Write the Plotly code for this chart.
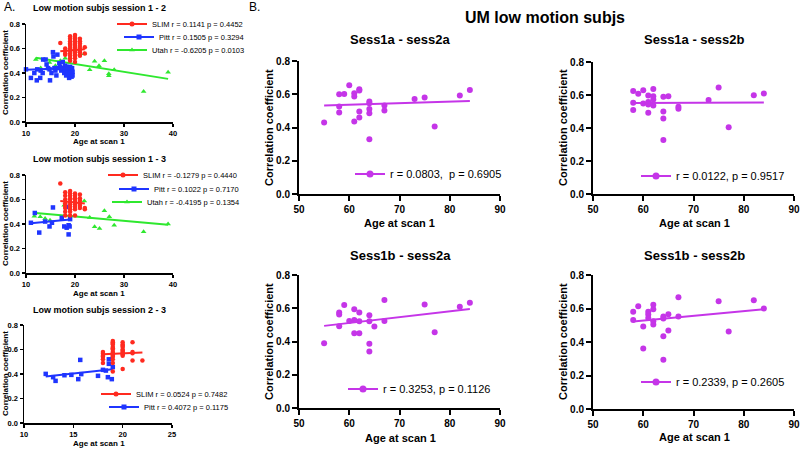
import plotly.graph_objects as go

# ------------------------------------------------------------------
# DATA
# ------------------------------------------------------------------
y_ticks = [0.0, 0.2, 0.4, 0.6, 0.8]
a_x_ticks_wide = [10, 20, 30, 40]
a_x_ticks_narrow = [10, 15, 20, 25]
b_x_ticks = [50, 60, 70, 80, 90]

# ---- A: Low motion subjs session 1 - 2 ----
a12_slim_age = [17,
                18, 18, 18, 18,
                19, 19, 19, 19, 19, 19, 19, 19, 19, 19, 19, 19, 19,
                20, 20, 20, 20, 20, 20, 20, 20, 20, 20, 20, 20, 20, 20, 20, 20,
                21, 21, 21, 21, 21, 21, 21, 21, 21,
                22, 22]
a12_slim_r = [0.645,
              0.60, 0.58, 0.56, 0.55,
              0.70, 0.68, 0.66, 0.64, 0.63, 0.62, 0.60, 0.59, 0.58, 0.56, 0.54, 0.52, 0.50,
              0.71, 0.69, 0.68, 0.67, 0.66, 0.65, 0.63, 0.62, 0.61, 0.59, 0.58, 0.57, 0.55, 0.54, 0.52, 0.49,
              0.68, 0.66, 0.64, 0.62, 0.60, 0.58, 0.57, 0.55, 0.54,
              0.61, 0.56]
a12_pitt_age = [10, 11, 11.7, 12.2, 12.3, 12.9, 13, 13.4, 13.5, 14, 14.2, 14.5, 14.8, 14.9,
                15.2, 15.5, 15.6, 15.8, 16, 16.2, 16.4, 16.5, 16.8, 17, 17.2, 17.5, 17.6, 17.8,
                18, 18, 18.2, 18.3, 18.5, 18.6, 18.8, 18.9, 19, 19, 19.1, 19.2, 19.3, 19.4,
                19.5, 19.5]
a12_pitt_r = [0.43, 0.36, 0.40, 0.34, 0.43, 0.36, 0.42, 0.40, 0.51, 0.51, 0.47, 0.44, 0.43, 0.34,
              0.40, 0.57, 0.535, 0.44, 0.42, 0.38, 0.55, 0.44, 0.48, 0.45, 0.42, 0.49, 0.44, 0.40,
              0.46, 0.43, 0.38, 0.45, 0.41, 0.44, 0.36, 0.42, 0.45, 0.39, 0.43, 0.40, 0.37, 0.44,
              0.41, 0.38]
a12_utah_age = [12, 13, 14.8, 16, 17, 18, 21.9, 23, 24, 24.9, 26, 26.9, 26.9, 28, 34, 39]
a12_utah_r = [0.51, 0.44, 0.485, 0.46, 0.50, 0.52, 0.557, 0.426, 0.495, 0.459, 0.50, 0.393,
              0.377, 0.426, 0.249, 0.407]
a12_slim_fit_age = [17, 22]
a12_slim_fit_r = [0.577, 0.594]
a12_pitt_fit_age = [10, 19.5]
a12_pitt_fit_r = [0.426, 0.44]
a12_utah_fit_age = [12, 39]
a12_utah_fit_r = [0.525, 0.352]
a12_labels = ["SLIM r = 0.1141 p = 0.4452", "Pitt r = 0.1505 p = 0.3294", "Utah r = -0.6205 p = 0.0103"]

# ---- A: Low motion subjs session 1 - 3 ----
a13_slim_age = [17,
                18, 18, 18, 18, 18, 18, 18, 18,
                19, 19, 19, 19, 19, 19, 19, 19, 19, 19, 19,
                20, 20, 20, 20, 20, 20, 20, 20, 20,
                21, 21, 21, 21, 21, 21,
                22, 22]
a13_slim_r = [0.73,
              0.66, 0.63, 0.60, 0.57, 0.55, 0.53, 0.50, 0.47,
              0.67, 0.65, 0.63, 0.61, 0.60, 0.58, 0.56, 0.54, 0.52, 0.50, 0.47,
              0.65, 0.63, 0.61, 0.60, 0.58, 0.56, 0.54, 0.52, 0.47,
              0.64, 0.61, 0.59, 0.57, 0.55, 0.53,
              0.53, 0.52]
a13_pitt_age = [11, 11.8, 12.7, 13.9, 14.8, 15.3, 15.5, 17.3, 17.8, 18.3, 18.2, 18.7, 18.7, 18.9, 19]
a13_pitt_r = [0.41, 0.49, 0.33, 0.42, 0.38, 0.41, 0.535, 0.45, 0.38, 0.37, 0.54, 0.315, 0.39, 0.38, 0.44]
a13_utah_age = [11.7, 12.9, 13.9, 14.9, 17.8, 21.9, 23, 24, 25, 26, 27, 28, 34, 39]
a13_utah_r = [0.464, 0.459, 0.445, 0.43, 0.554, 0.587, 0.453, 0.377, 0.363, 0.508, 0.459, 0.39, 0.336, 0.399]
a13_slim_fit_age = [17, 22]
a13_slim_fit_r = [0.587, 0.567]
a13_pitt_fit_age = [11, 19]
a13_pitt_fit_r = [0.407, 0.437]
a13_utah_fit_age = [12, 39]
a13_utah_fit_r = [0.49, 0.393]
a13_labels = ["SLIM r = -0.1279 p = 0.4440", "Pitt r = 0.1022 p = 0.7170", "Utah r = -0.4195 p = 0.1354"]

# ---- A: Low motion subjs session 2 - 3 ----
a23_slim_age = [18, 18, 18, 18, 18, 18,
                19, 19, 19, 19, 19, 19, 19, 19, 19, 19, 19, 19, 19, 19, 19,
                20, 20, 20, 20, 20, 20, 20, 20, 20, 20, 20,
                21, 21, 21, 21,
                22]
a23_slim_r = [0.58, 0.565, 0.55, 0.54, 0.52, 0.49,
              0.67, 0.66, 0.65, 0.64, 0.62, 0.61, 0.60, 0.58, 0.57, 0.56, 0.55, 0.54, 0.52, 0.49, 0.42,
              0.66, 0.64, 0.63, 0.62, 0.60, 0.59, 0.58, 0.57, 0.56, 0.55, 0.44,
              0.66, 0.58, 0.57, 0.51,
              0.51]
a23_pitt_age = [12.2, 12.95, 13.2, 14.1, 14.8, 15.5, 15.7, 15.8, 17.5, 18.0, 18.3, 18.5, 18.6, 18.6, 18.9, 19.0]
a23_pitt_r = [0.401, 0.374, 0.344, 0.39, 0.393, 0.358, 0.515, 0.399, 0.385, 0.434, 0.428, 0.374, 0.52, 0.483, 0.358, 0.456]
a23_slim_fit_age = [18, 22]
a23_slim_fit_r = [0.561, 0.575]
a23_pitt_fit_age = [12.2, 19]
a23_pitt_fit_r = [0.38, 0.439]
a23_labels = ["SLIM r = 0.0524 p = 0.7482", "Pitt r = 0.4072 p = 0.1175"]

# ---- B: UM low motion subjs ----
b1_age = [55, 58, 58, 58, 59, 60, 61, 61, 61, 62, 62, 62, 62, 64, 64, 64, 64, 64, 67, 67, 73, 75, 77, 82, 84]
b1_r = [0.43, 0.60, 0.526, 0.49, 0.602, 0.654, 0.606, 0.586, 0.436, 0.63, 0.622, 0.496, 0.46,
        0.556, 0.546, 0.512, 0.486, 0.33, 0.532, 0.502, 0.572, 0.58, 0.406, 0.592, 0.625]
b1_fit_age = [55, 84]
b1_fit_r = [0.533, 0.559]
b1_label = "r = 0.0803,\u00a0 p = 0.6905"

b2_age = [58, 58, 58, 59, 60, 60, 61, 61, 61, 61, 62, 62, 62, 62, 64, 64, 64, 64, 65, 67, 67, 73, 75, 77, 82, 84]
b2_r = [0.625, 0.553, 0.509, 0.607, 0.629, 0.549, 0.597, 0.557, 0.543, 0.492, 0.637, 0.593, 0.573, 0.537,
        0.589, 0.50, 0.458, 0.328, 0.593, 0.529, 0.517, 0.569, 0.645, 0.404, 0.599, 0.609]
b2_fit_age = [58, 84]
b2_fit_r = [0.551, 0.554]
b2_label = "r = 0.0122, p = 0.9517"

b3_age = [55, 58, 58, 58, 59, 60, 61, 61, 61, 62, 62, 62, 64, 64, 64, 64, 65, 67, 67, 75, 77, 82, 84]
b3_r = [0.39, 0.574, 0.562, 0.492, 0.62, 0.524, 0.594, 0.53, 0.45, 0.574, 0.522, 0.45, 0.558, 0.522,
        0.386, 0.34, 0.49, 0.65, 0.524, 0.622, 0.456, 0.609, 0.633]
b3_fit_age = [55, 84]
b3_fit_r = [0.494, 0.596]
b3_label = "r = 0.3253, p = 0.1126"

b4_age = [58, 58, 59, 60, 60, 61, 61, 61, 62, 62, 62, 62, 64, 64, 64, 64, 65, 65, 67, 67, 75, 77, 82, 84]
b4_r = [0.58, 0.532, 0.613, 0.492, 0.361, 0.58, 0.564, 0.544, 0.623, 0.596, 0.524, 0.504, 0.552, 0.54,
        0.435, 0.294, 0.566, 0.468, 0.667, 0.552, 0.643, 0.463, 0.649, 0.60]
b4_fit_age = [58, 84]
b4_fit_r = [0.522, 0.595]
b4_label = "r = 0.2339, p = 0.2605"

# ------------------------------------------------------------------
# STYLE / LAYOUT
# ------------------------------------------------------------------
W, H = 800, 449
FONT = "Liberation Sans, Arial, Helvetica, sans-serif"
RED = "#ff2a1f"
BLUE = "#1f35ff"
GREEN = "#2fe82f"
PURPLE = "#c535e8"

fig = go.Figure()
layout = {}


def add_axes(i, box, xr, xt, big):
    x0, x1, yt, yb = box
    lw = 2 if big else 1.5
    tl = 5 if big else 3
    fs = 10 if big else 7.5
    common = dict(showline=True, linecolor="black", linewidth=lw, ticks="outside", ticklen=tl,
                  tickwidth=lw, tickcolor="black", showgrid=False, zeroline=False, automargin=False,
                  tickfont=dict(family=FONT, size=fs, color="black", weight="bold"), fixedrange=True)
    s = "" if i == 1 else str(i)
    layout["xaxis" + s] = dict(domain=[x0 / W, x1 / W], range=xr, tickvals=xt, anchor="y" + s, **common)
    layout["yaxis" + s] = dict(domain=[1 - yb / H, 1 - yt / H], range=[0, 0.8], tickvals=y_ticks,
                               tickformat=".1f", anchor="x" + s, **common)


def add_series(i, xs, ys, color, symbol, size, fit_x, fit_y, lwidth, label, legname, legsize):
    s = "" if i == 1 else str(i)
    fig.add_trace(go.Scatter(x=xs, y=ys, mode="markers", xaxis="x" + s, yaxis="y" + s,
                             marker=dict(color=color, symbol=symbol, size=size, line=dict(width=0)),
                             showlegend=False, cliponaxis=False))
    fig.add_trace(go.Scatter(x=fit_x, y=fit_y, mode="lines", xaxis="x" + s, yaxis="y" + s,
                             line=dict(color=color, width=lwidth), showlegend=False, cliponaxis=False))
    fig.add_trace(go.Scatter(x=[None], y=[None], mode="lines+markers", xaxis="x" + s, yaxis="y" + s,
                             line=dict(color=color, width=lwidth),
                             marker=dict(color=color, symbol=symbol, size=legsize),
                             name=label, legend=legname, showlegend=True))


def add_legend(name, text_x, y_c, fs):
    layout[name] = dict(x=(text_x - 40) / W, y=1 - y_c / H, xanchor="left", yanchor="middle",
                        bgcolor="rgba(0,0,0,0)", borderwidth=0, itemwidth=30,
                        font=dict(family=FONT, size=fs, color="black"))


# panel boxes in pixels: x0, x1, ytop, ybottom
boxA1 = (26, 173, 24, 122)
boxA2 = (26, 173, 175, 273)
boxA3 = (24, 172, 325, 423)
boxB1 = (299, 500, 61, 194)
boxB2 = (593, 794, 62, 194)
boxB3 = (299, 500, 275, 408)
boxB4 = (593, 794, 275, 409)

add_axes(1, boxA1, [10, 40], a_x_ticks_wide, False)
add_axes(2, boxA2, [10, 40], a_x_ticks_wide, False)
add_axes(3, boxA3, [10, 25], a_x_ticks_narrow, False)
add_axes(4, boxB1, [50, 90], b_x_ticks, True)
add_axes(5, boxB2, [50, 90], b_x_ticks, True)
add_axes(6, boxB3, [50, 90], b_x_ticks, True)
add_axes(7, boxB4, [50, 90], b_x_ticks, True)

# Panel A1
add_series(1, a12_utah_age, a12_utah_r, GREEN, "triangle-up", 5, a12_utah_fit_age, a12_utah_fit_r, 2, a12_labels[2], "legend3", 5)
add_series(1, a12_pitt_age, a12_pitt_r, BLUE, "square", 4.5, a12_pitt_fit_age, a12_pitt_fit_r, 2, a12_labels[1], "legend2", 5)
add_series(1, a12_slim_age, a12_slim_r, RED, "circle", 4.5, a12_slim_fit_age, a12_slim_fit_r, 2, a12_labels[0], "legend", 5)
add_legend("legend", 152, 24, 7.5)
add_legend("legend2", 159, 37, 7.5)
add_legend("legend3", 152, 50, 7.5)

# Panel A2
add_series(2, a13_utah_age, a13_utah_r, GREEN, "triangle-up", 5, a13_utah_fit_age, a13_utah_fit_r, 2, a13_labels[2], "legend6", 5)
add_series(2, a13_pitt_age, a13_pitt_r, BLUE, "square", 4.5, a13_pitt_fit_age, a13_pitt_fit_r, 2, a13_labels[1], "legend5", 5)
add_series(2, a13_slim_age, a13_slim_r, RED, "circle", 4.5, a13_slim_fit_age, a13_slim_fit_r, 2, a13_labels[0], "legend4", 5)
add_legend("legend4", 143, 175, 7.5)
add_legend("legend5", 154, 189, 7.5)
add_legend("legend6", 147, 202, 7.5)

# Panel A3
add_series(3, a23_pitt_age, a23_pitt_r, BLUE, "square", 4.5, a23_pitt_fit_age, a23_pitt_fit_r, 2, a23_labels[1], "legend8", 5)
add_series(3, a23_slim_age, a23_slim_r, RED, "circle", 4.5, a23_slim_fit_age, a23_slim_fit_r, 2, a23_labels[0], "legend7", 5)
add_legend("legend7", 136, 394, 7.5)
add_legend("legend8", 144, 407, 7.5)

# Panels B
add_series(4, b1_age, b1_r, PURPLE, "circle", 6, b1_fit_age, b1_fit_r, 2, b1_label, "legend9", 7)
add_series(5, b2_age, b2_r, PURPLE, "circle", 6, b2_fit_age, b2_fit_r, 2, b2_label, "legend10", 7)
add_series(6, b3_age, b3_r, PURPLE, "circle", 6, b3_fit_age, b3_fit_r, 2, b3_label, "legend11", 7)
add_series(7, b4_age, b4_r, PURPLE, "circle", 6, b4_fit_age, b4_fit_r, 2, b4_label, "legend12", 7)
add_legend("legend9", 390, 174, 11)
add_legend("legend10", 676, 176, 11)
add_legend("legend11", 383, 389, 11)
add_legend("legend12", 676, 382, 11)

# ------------------------------------------------------------------
# TEXT
# ------------------------------------------------------------------
annotations = []


def txt(s, px, py, size, bold=True, angle=0, anchor="center"):
    annotations.append(dict(text=s, x=px / W, y=1 - py / H, xref="paper", yref="paper",
                            xanchor=anchor, yanchor="middle", showarrow=False, textangle=angle,
                            font=dict(family=FONT, size=size, color="black",
                                      weight="bold" if bold else "normal")))


txt("A.", 2, 7, 12, bold=False, anchor="left")
txt("B.", 247, 7, 12, bold=False, anchor="left")
txt("UM low motion subjs", 545, 18, 16)

txt("Low motion subjs session 1 - 2", 99, 8, 9)
txt("Low motion subjs session 1 - 3", 99, 159, 9)
txt("Low motion subjs session 2 - 3", 99, 310, 9)
for yc in (142, 293, 443):
    txt("Age at scan 1", 99, yc, 8)
for yc in (73, 224, 374):
    txt("Correlation coefficient", 5, yc, 8, angle=-90)

txt("Sess1a - sess2a", 400, 40, 13)
txt("Sess1a - sess2b", 694, 40, 13)
txt("Sess1b - sess2a", 400, 255, 13)
txt("Sess1b - sess2b", 694, 255, 13)
for (xc, yc) in ((399, 223), (694, 223), (400, 438), (694, 437)):
    txt("Age at scan 1", xc, yc, 11)
for (xc, yc) in ((269, 128), (563, 128), (269, 342), (563, 342)):
    txt("Correlation coefficient", xc, yc, 11, angle=-90)

layout.update(dict(width=W, height=H, margin=dict(l=0, r=0, t=0, b=0, autoexpand=False),
                   paper_bgcolor="white", plot_bgcolor="white",
                   font=dict(family=FONT, color="black"),
                   annotations=annotations))
fig.update_layout(**layout)

# remove the default 8px page margin so the figure sits at the window origin
page_fix = "document.body.style.margin='0px';document.body.style.overflow='hidden';"
fig.write_html("out.html", post_script=page_fix,
               config={"displayModeBar": False, "staticPlot": True})
